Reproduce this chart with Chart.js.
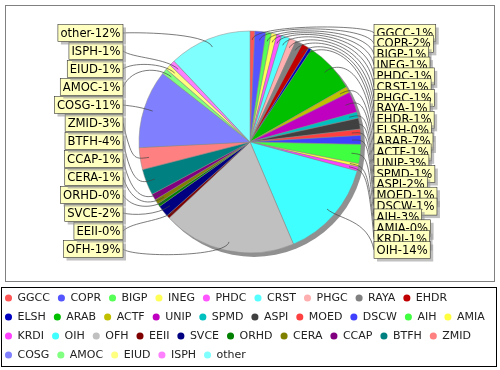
<!DOCTYPE html>
<html>
<head>
<meta charset="utf-8">
<script src="https://cdn.jsdelivr.net/npm/chart.js@4.4.0/dist/chart.umd.min.js"></script>
<style>
  html, body { margin: 0; padding: 0; background: #fff; }
</style>
</head>
<body>
<canvas id="pie-chart" width="500" height="370"></canvas>
<script>
const names = ["GGCC", "COPR", "BIGP", "INEG", "PHDC", "CRST", "PHGC", "RAYA", "EHDR", "ELSH",
  "ARAB", "ACTF", "UNIP", "SPMD", "ASPI", "MOED", "DSCW", "AIH", "AMIA", "KRDI",
  "OIH", "OFH", "EEII", "SVCE", "ORHD", "CERA", "CCAP", "BTFH", "ZMID", "COSG",
  "AMOC", "EIUD", "ISPH", "other"];

const shares = [0.7, 1.6, 0.8, 0.8, 0.7, 1.2, 1.0, 1.0, 1.1, 0.45,
  7.4, 0.9, 3.0, 0.9, 1.6, 0.9, 1.3, 2.8, 0.45, 0.6,
  14.4, 19.4, 0.45, 1.7, 0.45, 0.7, 0.9, 3.8, 3.2, 11.4,
  0.8, 0.8, 0.8, 12.0];

const colors = ["#FF5555", "#5555FF", "#55FF55", "#FFFF55", "#FF55FF", "#55FFFF", "#FFAFAF", "#808080", "#C00000", "#0000C0",
  "#00C000", "#C0C000", "#C000C0", "#00C0C0", "#404040", "#FF4040", "#4040FF", "#40FF40", "#FFFF40", "#FF40FF",
  "#40FFFF", "#C0C0C0", "#800000", "#000080", "#008000", "#808000", "#800080", "#008080", "#FF8080", "#8080FF",
  "#80FF80", "#FFFF80", "#FF80FF", "#80FFFF"];

const labelFont = '11.6px "DejaVu Sans"';
const legendPad = 8;

// frame, shadow and the JFreeChart style labels with curved links
const piecePlugin = {
  id: 'piecePlugin',
  afterLayout(chart) {
    const lg = chart.legend;
    const w = lg.width, h = lg.height;
    lg.left = 5 - legendPad; lg.right = lg.left + w;
    lg.top = 292.5 - legendPad; lg.bottom = lg.top + h;
    chart.chartArea = {left: 139, top: 31, right: 361, bottom: 253, width: 222, height: 222};
  },
  beforeDraw(chart) {
    const ctx = chart.ctx;
    ctx.save();
    ctx.fillStyle = '#fff';
    ctx.fillRect(0, 0, chart.width, chart.height);
    ctx.lineWidth = 1;
    ctx.strokeStyle = '#808080';
    ctx.strokeRect(5.5, 5.5, 489, 276);
    ctx.strokeStyle = '#000';
    ctx.strokeRect(1.5, 287.5, 495, 79);
    ctx.restore();
  },
  beforeDatasetsDraw(chart) {
    const a = chart.getDatasetMeta(0).data[0];
    const ctx = chart.ctx;
    ctx.save();
    ctx.fillStyle = '#909090';
    ctx.beginPath();
    ctx.arc(a.x + 4, a.y + 4, a.outerRadius, 0, Math.PI * 2);
    ctx.fill();
    ctx.restore();
  },
  afterDatasetsDraw(chart) {
    const ctx = chart.ctx;
    const meta = chart.getDatasetMeta(0);
    const total = shares.reduce((s, v) => s + v, 0);
    const right = [], left = [];
    meta.data.forEach((a, i) => {
      const mid = (a.startAngle + a.endAngle) / 2;
      const item = {i, mid, x: a.x, y: a.y, r: a.outerRadius};
      (Math.cos(mid) >= 0 ? right : left).push(item);
    });
    // right column top to bottom, left column bottom to top
    const rStep = (250 - 33) / (right.length - 1);
    right.forEach((it, k) => { it.ty = 33 + rStep * k; it.tx = 374; it.side = 1; });
    const lStep = (249 - 33) / (left.length - 1);
    left.forEach((it, k) => { it.ty = 249 - lStep * k; it.tx = 123; it.side = -1; });
    const all = right.concat(left);
    const linkR = 118;

    ctx.save();
    ctx.strokeStyle = '#444';
    ctx.lineWidth = 0.7;
    all.forEach(it => {
      const c = Math.cos(it.mid), s = Math.sin(it.mid);
      const sx = it.x + c * it.r * 0.92, sy = it.y + s * it.r * 0.92;
      const ex = it.x + c * linkR, ey = it.y + s * linkR;
      const ax = it.x + it.side * linkR;
      ctx.beginPath();
      ctx.moveTo(sx, sy);
      ctx.bezierCurveTo(ex, ey, ax, ey, it.tx, it.ty);
      ctx.stroke();
    });

    ctx.font = labelFont;
    ctx.textBaseline = 'middle';
    all.forEach(it => {
      const text = names[it.i] + '-' + Math.round(shares[it.i] / total * 100) + '%';
      const tw = ctx.measureText(text).width;
      const bw = tw + 5, bh = 17;
      const bx = it.side > 0 ? it.tx : it.tx - bw;
      const by = it.ty - 8.5;
      ctx.fillStyle = 'rgba(151,151,151,0.6)';
      ctx.fillRect(bx + 3, by + 3, bw, bh);
      ctx.fillStyle = '#FFFFC0';
      ctx.fillRect(bx, by, bw, bh);
      ctx.strokeStyle = '#333';
      ctx.lineWidth = 0.6;
      ctx.strokeRect(bx, by, bw, bh);
      ctx.fillStyle = '#000';
      ctx.fillText(text, bx + 2.5, it.ty + 0.5);
    });
    ctx.restore();
  }
};

new Chart(document.getElementById('pie-chart'), {
  type: 'pie',
  data: {
    labels: names,
    datasets: [{
      data: shares,
      backgroundColor: colors,
      borderColor: '#888',
      borderWidth: 0.5,
      radius: 111
    }]
  },
  options: {
    responsive: false,
    animation: false,
    events: [],
    plugins: {
      tooltip: { enabled: false },
      legend: {
        position: 'bottom',
        align: 'start',
        labels: {
          usePointStyle: true,
          pointStyle: 'circle',
          boxWidth: 7,
          boxHeight: 5,
          padding: legendPad,
          color: '#222',
          font: { family: 'DejaVu Sans', size: 11 },
          generateLabels: (chart) => Chart.overrides.doughnut.plugins.legend.labels.generateLabels(chart)
            .map(l => Object.assign(l, { lineWidth: 0, strokeStyle: l.fillStyle }))
        }
      }
    }
  },
  plugins: [piecePlugin]
});
</script>
</body>
</html>
